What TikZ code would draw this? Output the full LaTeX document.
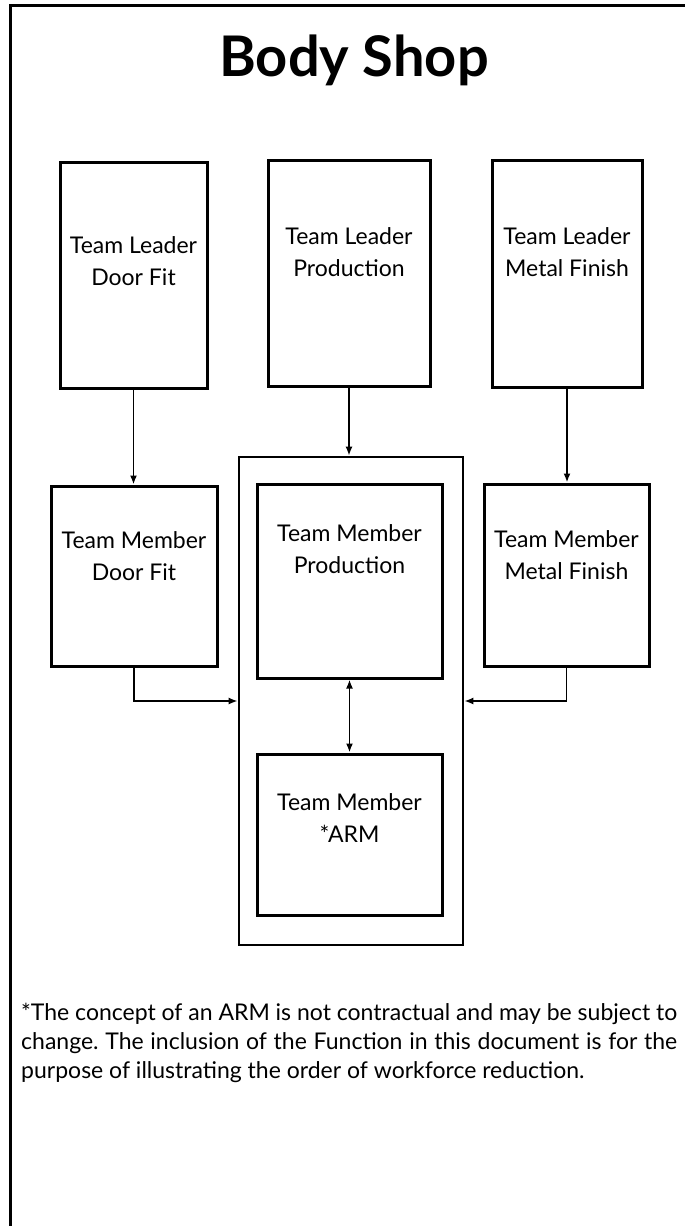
\documentclass[tikz,border=0pt]{standalone}
\usepackage{fontspec}
\setmainfont{Lato}
\usetikzlibrary{calc,arrows.meta}

\begin{document}
\begin{tikzpicture}[
        x=1pt, y=-1pt,
        every node/.style={font=\fontsize{23}{32}\selectfont},
        box/.style={
          draw=black, line width=3pt, inner sep=0pt,
        },
        grp/.style={
          draw=black, line width=2.6pt, inner sep=0pt,
          minimum width=224pt, minimum height=488pt,
        },
        lbl/.style={align=center, inner sep=0pt},
        arr/.style={-{Latex[length=9pt,width=7pt]}, draw=black, line width=1.8pt},
        dbl/.style={{Latex[length=9pt,width=7pt]}-{Latex[length=9pt,width=7pt]}, draw=black, line width=1.8pt},
        ttl/.style={font=\fontsize{56}{60}\selectfont\bfseries, inner sep=0pt},
        note/.style={font=\fontsize{23}{29}\selectfont\frenchspacing, text width=656pt,
          align=justify, inner sep=0pt},
      ]
      \useasboundingbox (0,0) rectangle (685,1226);
      \draw[line width=3pt] (10,1240) -- (10,5) -- (700,5);

      \node[ttl, anchor=base] (title) at (354,76) {Body Shop};

      % team leaders
      \node[box, minimum width=147pt, minimum height=226pt] (tlDoor)  at (133.5,275) {};
      \node[box, minimum width=162pt, minimum height=226pt] (tlProd)  at (349,273) {};
      \node[box, minimum width=150pt, minimum height=227pt] (tlMetal) at (567,273.5) {};

      % team members
      \node[box, minimum width=166pt, minimum height=180pt] (tmDoor)  at (134,576) {};
      \node[grp] (prodGrp) at (351,701) {};
      \node[box, minimum width=185pt, minimum height=194pt] (tmProd)  at (349.5,581) {};
      \node[box, minimum width=185pt, minimum height=161pt] (tmArm)   at (349.5,834.5) {};
      \node[box, minimum width=165pt, minimum height=182pt] (tmMetal) at (566.5,575) {};

      \node[lbl] (tlDoorT)  at (133.5,261) {Team Leader\\Door Fit};
      \node[lbl] (tlProdT)  at (349,252.5) {Team Leader\\Production};
      \node[lbl] (tlMetalT) at (567,252.5) {Team Leader\\Metal Finish};
      \node[lbl] (tmDoorT)  at (134,556.5) {Team Member\\Door Fit};
      \node[lbl] (tmProdT)  at (349.5,549) {Team Member\\Production};
      \node[lbl] (tmArmT)   at (349.5,818.5) {Team Member\\*ARM};
      \node[lbl] (tmMetalT) at (566.5,555) {Team Member\\Metal Finish};

      \draw[arr] (tlDoor.south) -- (tlDoor.south |- tmDoor.north);
      \draw[arr] (tlProd.south) -- (tlProd.south |- prodGrp.north);
      \draw[arr] (tlMetal.south) -- (tlMetal.south |- tmMetal.north);
      \draw[arr] (tmDoor.south) |- (prodGrp.west);
      \draw[arr] (tmMetal.south) |- (prodGrp.east);
      \draw[dbl] (tmProd.south) -- (tmArm.north);

      \node[note, anchor=north west] (footnote) at (21,1003) {*The concept of an ARM is not contractual and may be subject to\linebreak
        change. The inclusion of the Function in this document is for the\linebreak
        purpose of illustrating the order of workforce reduction.};
    \end{tikzpicture}
\end{document}
